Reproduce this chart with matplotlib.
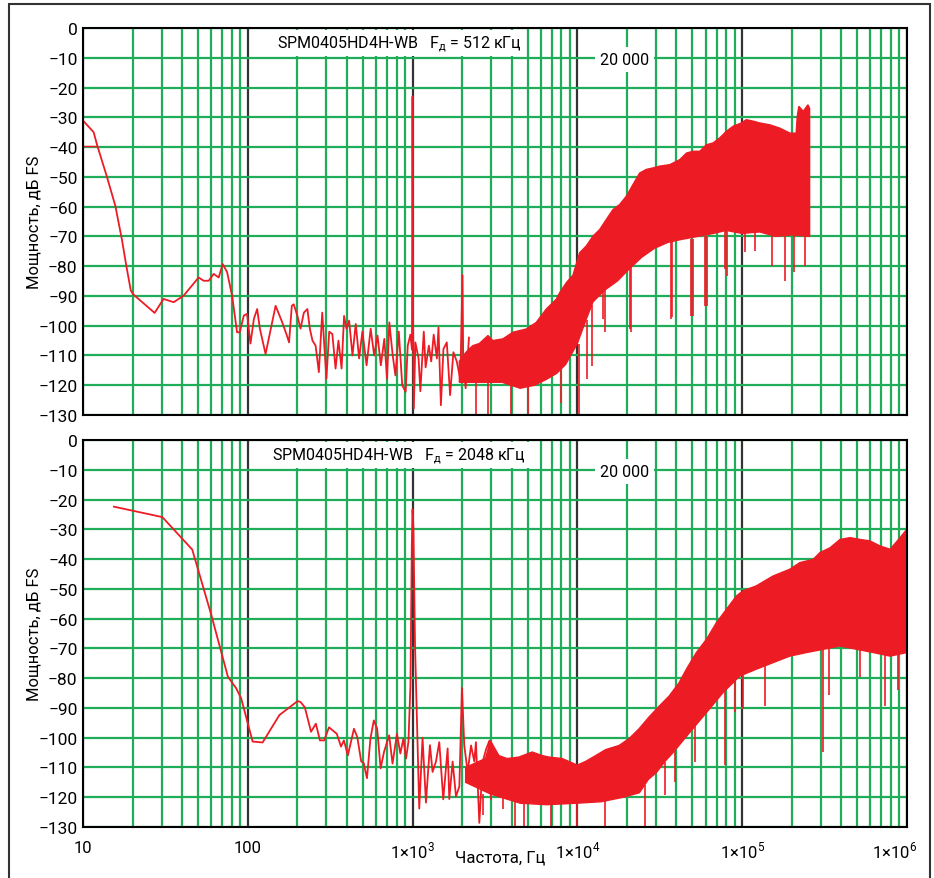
import numpy as np
import matplotlib
matplotlib.use('Agg')
import matplotlib.pyplot as plt
from matplotlib.ticker import LogLocator, NullFormatter
from matplotlib.patches import Rectangle
import matplotlib.transforms as mtransforms

plt.rcParams['font.family'] = ['Roboto', 'DejaVu Sans']
plt.rcParams['font.size'] = 11

RED = '#ed1c24'
GREEN = '#1fad5a'
DARK = '#333333'

# ---- top panel (Fд = 512 кГц) ----
top_line_f = [10, 11.6, 12.2, 13.9, 15.7, 17.2, 18.3, 19.5, 20.2, 27.2, 30.8, 35.5, 40.8,
              50.3, 54, 57.9, 62.1, 66.6, 70.4, 74.9, 80.3, 86.1, 89.3, 94.6, 99, 103.8,
              108.9, 114, 118.4, 128.2, 147.5, 161.9, 172, 178, 185, 190, 200, 209, 219,
              230, 238, 247, 258, 270, 283, 300, 312, 326, 341, 355, 371, 384, 397, 412,
              432, 452, 474, 496, 526, 557, 585, 613, 642, 674, 700, 723, 758, 787, 825,
              866, 908, 935, 970, 992, 1000, 1008, 1018, 1040, 1088, 1115, 1170, 1200,
              1256, 1298, 1344, 1405, 1437, 1486, 1540, 1614, 1690, 1770, 1855, 1950,
              2010, 2030, 2100, 2200]
top_line_db = [-31.1, -35, -39.5, -49.6, -59.7, -70.9, -79.8, -88.2, -89.5, -95.7, -91,
               -92.1, -89.9, -83.8, -84.9, -84.9, -82.6, -83.8, -79.3, -82, -89.9, -102.2,
               -102.2, -96.6, -96, -106, -97.7, -94.4, -101, -109.5, -93.3, -98.9, -103,
               -105.6, -93.3, -92.8, -96.7, -101, -95.6, -94.4, -101, -105, -106.7, -115.6,
               -95.6, -117.8, -102, -102.8, -114.4, -105, -114.4, -96.7, -101, -98.3, -110,
               -99.4, -111, -102, -113.3, -101, -110, -103.3, -113.3, -104.4, -117.8, -98.9,
               -110, -116.7, -102, -120, -122.2, -106.7, -103, -108, -23, -100, -127.8,
               -105.6, -111, -122, -102, -114, -106.7, -112, -103, -111, -100.6, -126.7,
               -107.8, -105.6, -123.3, -108.9, -112, -118, -83, -112, -121, -104]
top_stub_f = [10, 12.2]
top_stub_db = [-39.8, -39.8]

top_hi_f = [1923, 2110, 2320, 2540, 2870, 3070, 3540, 4060, 4900, 5630, 6480, 7450, 7820,
            8590, 9410, 10330, 11340, 12450, 13670, 15000, 16460, 18070, 19840, 21770,
            23900, 26240, 28800, 31600, 36400, 41900, 46000, 50500, 55400, 60800, 66700,
            73200, 80300, 88200, 99000, 106000, 117000, 128000, 147000, 169000, 195000,
            213000, 216000, 221000, 235000, 251000, 257000]
top_hi_db = [-112, -108.9, -106.7, -106, -103.3, -105, -104.4, -102.2, -101.1, -98.9, -94.4,
             -91.1, -88.9, -85.5, -83, -75.5, -73.2, -69.9, -67.7, -64.3, -61, -59.3, -56.5,
             -52.6, -48.7, -47.5, -47, -46.4, -45.9, -44.2, -42, -41.4, -41.4, -39.2, -38.6,
             -36.9, -34.7, -33, -31.9, -30.8, -31.3, -31.9, -32.5, -33.6, -35.3, -35.3, -30,
             -26.3, -28, -25.8, -27]
top_lo_f = [1923, 2500, 3500, 4500, 5500, 6500, 7500, 8500, 10000, 11300, 12450, 14700,
            17500, 20600, 24600, 29400, 35500, 43000, 54000, 67000, 80000, 100000, 128000,
            160000, 200000, 257000]
top_lo_db = [-119, -119, -119, -121, -120, -118, -116, -113, -106, -98, -92, -88, -85, -81,
             -77, -74, -72, -71, -70, -69, -68, -69, -68.5, -70, -69.5, -70]

top_spike_f = [2432, 2863, 3970, 5010, 7990, 10230, 11400, 12300, 14300, 14700, 20800,
               21300, 37300, 37400, 49300, 50200, 59500, 61100, 78500, 80700, 104400,
               120200, 151700, 181400, 207600, 242000]
top_spike_lo = [-130, -130, -130, -130, -126, -130, -117.8, -113.4, -97.8, -102.2, -101,
                -102, -97.8, -97, -96.7, -96.6, -93.4, -93.3, -81, -83.2, -75.4, -75,
                -79.8, -84.9, -81.8, -79.8]
top_spike_hi = [-119, -119, -119, -120, -115, -106, -98, -93, -88, -88, -81, -80, -72,
                -72, -71, -71, -70, -70, -68, -68, -69, -68, -68, -69, -69, -69]

# ---- bottom panel (Fд = 2048 кГц) ----
bot_line_f = [15.4, 30.3, 46, 60, 75.7, 85, 91.2, 100, 107, 123, 155.5, 200.6, 209, 222,
              242, 259, 274, 291, 311, 347, 368, 383, 405, 441, 462, 488, 505, 529, 555,
              582, 610, 640, 671, 721, 756, 804, 843, 880, 913, 944, 971, 990, 1000, 1012,
              1035, 1098, 1150, 1206, 1275, 1323, 1387, 1453, 1536, 1633, 1671, 1751,
              1835, 1923, 1995, 2060, 2160, 2265, 2370, 2425, 2543, 2667, 2791, 2927, 2995]
bot_line_db = [-22.4, -25.9, -36.8, -58.7, -79.5, -83.4, -86.8, -95.2, -101.3, -101.6,
               -92.4, -87.7, -88, -89.8, -98, -95.3, -100.9, -100.9, -96.5, -98.7, -103,
               -100.9, -105.9, -97, -99.8, -108, -108.5, -113.6, -100.3, -94.2, -97, -110.3,
               -104.8, -99.2, -108.7, -98.7, -105.3, -100.3, -107, -101.4, -82.5, -35,
               -23.3, -29.5, -68.8, -123.8, -100, -121.8, -102.5, -111.5, -108, -101.5,
               -120.7, -103.6, -120.6, -108, -119.7, -116.4, -83.3, -102.6, -111.5, -102.6,
               -108, -101.5, -128.6, -108, -104, -101, -120.6]

bot_hi_f = [2100, 2520, 2770, 2970, 3340, 3750, 4420, 5320, 6120, 6720, 8100, 10000, 11200,
            12930, 14870, 17940, 20630, 23700, 27300, 31400, 36100, 41500, 45900, 52800,
            60700, 69800, 80300, 92400, 101000, 122000, 154000, 195000, 224000, 270000,
            297000, 342000, 393000, 452000, 520000, 598000, 688000, 792000, 910000, 1000000]
bot_hi_db = [-110, -108, -107, -101, -106, -107, -106.5, -104.8, -106, -106.5, -107, -109.2,
             -108, -106, -104, -102.6, -100.3, -97, -93, -89.4, -86, -81.5, -77, -71.4, -67,
             -61.4, -56.9, -52.4, -50.7, -49, -45.7, -43.4, -41.2, -40.1, -37.8, -36.2,
             -33.4, -32.8, -33.4, -33.9, -35.6, -36.7, -32.8, -30]
bot_lo_f = [2100, 3000, 4500, 6500, 10000, 14000, 19000, 23800, 27000, 30200, 34000, 38100,
            48000, 60700, 76500, 96800, 122000, 154000, 195000, 246000, 311000, 393000,
            496000, 626000, 792000, 1000000]
bot_lo_db = [-115, -119, -122, -122.5, -122, -121.5, -120, -118.5, -114, -111.7, -108, -105,
             -98.3, -91.6, -84.9, -79.3, -77, -74.8, -72.6, -71.4, -70.3, -69.2, -70.3,
             -71.4, -72.6, -71.4]

bot_spike_f = [2680, 3560, 4160, 4780, 6970, 9900, 14700, 25700, 34100, 39150, 51800,
               78900, 90600, 101700, 137000, 310000, 334800, 523000, 735000, 885000]
bot_spike_lo = [-126, -123.8, -130, -130, -130, -130, -130, -130, -119.3, -114.9, -108.2,
                -109.3, -91.4, -90.3, -89.2, -104.8, -85.8, -79.7, -89.2, -84.1]
bot_spike_hi = [-119, -119, -120, -121, -122, -121, -121, -116, -108, -104, -96, -84, -80,
                -78, -75, -70, -70, -70, -72, -72]

x_ticks = [10, 100, 1e3, 1e4, 1e5, 1e6]
x_tick_labels = ['10', '100', '1×10$^{\\mathregular{3}}$', '1×10$^{\\mathregular{4}}$',
                 '1×10$^{\\mathregular{5}}$', '1×10$^{\\mathregular{6}}$']
y_ticks = list(range(0, -140, -10))


def style_axes(ax, title):
    ax.set_xscale('log')
    ax.set_xlim(10, 1e6)
    ax.set_ylim(-130, 0)
    ax.set_xticks(x_ticks)
    ax.xaxis.set_minor_locator(LogLocator(base=10, subs=np.arange(2, 10), numticks=20))
    ax.xaxis.set_minor_formatter(NullFormatter())
    ax.set_yticks(y_ticks)
    ax.set_yticklabels([str(v).replace('-', '\u2212') for v in y_ticks], fontsize=12.5)
    ax.tick_params(which='both', length=0)
    ax.tick_params(axis='y', pad=4)
    ax.tick_params(axis='x', pad=9, labelsize=12)
    ax.set_axisbelow(True)
    ax.yaxis.grid(True, which='major', color=GREEN, lw=1.6)
    ax.xaxis.grid(True, which='minor', color=GREEN, lw=1.6)
    ax.xaxis.grid(True, which='major', color=DARK, lw=1.6)
    for s in ax.spines.values():
        s.set_color('black')
        s.set_linewidth(1.5)
    ax.set_ylabel('Мощность, дБ FS', fontsize=12)
    ax.yaxis.set_label_coords(-0.051, 0.5)
    ax.text(0.384, 0.961, title, transform=ax.transAxes, ha='center', va='center',
            fontsize=11.5, bbox=dict(facecolor='white', edgecolor='none', pad=2.5))
    ax.text(19300, -10.6, '20 000', ha='center', va='center', fontsize=11.5,
            bbox=dict(facecolor='white', edgecolor='none', pad=3.5))


def draw_band(ax, hi_f, hi_db, lo_f, lo_db):
    xs = list(hi_f) + list(lo_f)[::-1]
    ys = list(hi_db) + list(lo_db)[::-1]
    ax.fill(xs, ys, color=RED, lw=1.0, edgecolor=RED)


fig = plt.figure(figsize=(9.34, 8.79), dpi=100)
ax1 = fig.add_axes([0.0889, 0.5267, 0.882, 0.4403])
ax2 = fig.add_axes([0.0889, 0.0580, 0.882, 0.4403])

style_axes(ax1, 'SPM0405HD4H-WB   F$_{\\mathregular{д}}$ = 512 кГц')
style_axes(ax2, 'SPM0405HD4H-WB   F$_{\\mathregular{д}}$ = 2048 кГц')

# top data
draw_band(ax1, top_hi_f, top_hi_db, top_lo_f, top_lo_db)
ax1.vlines(top_spike_f, top_spike_lo, top_spike_hi, color=RED, lw=1.2)
ax1.plot(top_line_f, top_line_db, color=RED, lw=1.3)
ax1.plot(top_stub_f, top_stub_db, color=RED, lw=1.0)
ax1.set_xticklabels([])

# bottom data
draw_band(ax2, bot_hi_f, bot_hi_db, bot_lo_f, bot_lo_db)
ax2.vlines(bot_spike_f, bot_spike_lo, bot_spike_hi, color=RED, lw=1.2)
ax2.plot(bot_line_f, bot_line_db, color=RED, lw=1.3)
ax2.set_xticklabels(x_tick_labels)
labels = ax2.get_xticklabels()
shift = mtransforms.ScaledTranslation(-12 / 100, 0, fig.dpi_scale_trans)
labels[-1].set_transform(labels[-1].get_transform() + shift)

fig.text(500 / 934, 1 - 858 / 879, 'Частота, Гц', ha='center', va='center', fontsize=12)

# outer frame
fig.patches.append(Rectangle((9 / 934, -0.02), 921 / 934, 1 - 5 / 879 + 0.02,
                             transform=fig.transFigure, fill=False,
                             edgecolor=DARK, lw=1.5, clip_on=False))

fig.savefig('out.png', dpi=100)
